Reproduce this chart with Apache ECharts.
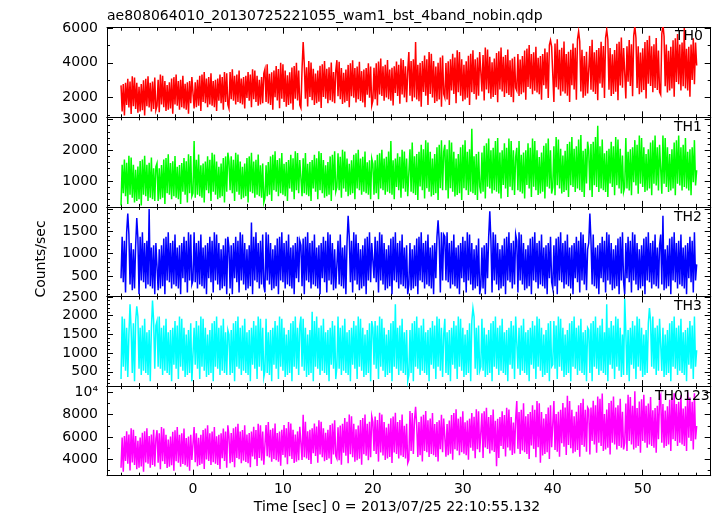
<!DOCTYPE html>
<html><head><meta charset="utf-8">
<script src="https://cdn.jsdelivr.net/npm/echarts@6/dist/echarts.min.js"></script>
<style>html,body{margin:0;padding:0;background:#fff}#c{width:717px;height:516px}</style>
</head><body><div id="c"></div>
<script>
const TITLE = 'ae808064010_20130725221055_wam1_bst_4band_nobin.qdp';
const X_TITLE = 'Time [sec] 0 = 2013/07/25 22:10:55.132';
const Y_TITLE = 'Counts/sec';
const bandNames = ['TH0', 'TH1', 'TH2', 'TH3', 'TH0123'];
const bandColors = ['#ff0000', '#00ff00', '#0000ff', '#00ffff', '#ff00ff'];
const timeStart = -8.0;
const timeStep = 0.125;
const xRange = [-9.56, 57.56];
const xLabelStep = 10;
const yRanges = [[865, 6020], [153, 3075], [40, 2050], [118, 2510], [2550, 10560]];
const yLabelSteps = [2000, 1000, 500, 500, 2000];

const th0 = [
2700,1200,2775,975,2850,1575,3075,1425,2925,1050,3225,1500,3150,1350,2850,1125,2625,1200,2775,1275,3000,975,3075,1500,3225,1425,2850,1200,2925,1350,3150,1275,
1525,3025,1150,3325,1600,3250,1450,2950,1225,2725,1300,2875,1375,3100,1075,3175,1600,3325,1525,2950,1300,3025,1450,3250,1375,2800,1300,2875,1075,2950,1675,3175,
3100,1375,2875,1450,3025,1525,3250,1225,3325,1750,3475,1675,3100,1450,3175,1600,3400,1525,2950,1450,3025,1225,3100,1825,3325,1675,3175,1300,3475,1750,3400,1600,
1375,3475,1900,3625,1825,3250,1600,3325,1750,3550,1675,3100,1600,3175,1375,3250,1975,3475,1825,3325,1450,3625,1900,3550,1750,3250,1525,3025,1600,3175,1675,3400,
3640,1750,3910,1660,3370,1570,3460,1300,3550,2020,3820,1840,3640,1390,4000,1930,3910,1750,3550,1480,3280,1570,3460,1660,3730,1300,3820,1930,4000,1840,3550,1570,
1400,3650,5200,3920,1940,3740,1490,4100,2030,4010,1850,3650,1580,3380,1670,3560,1760,3830,1400,3920,2030,4100,1940,3650,1670,3740,1850,4010,1760,3470,1670,3560,
4150,2080,4060,1900,3700,1630,3430,1720,3610,1810,3880,1450,3970,2080,4150,1990,3700,1720,3790,1900,4060,1810,3520,1720,3610,1450,3700,2170,3970,1990,3790,1540,
1820,3710,1910,3980,1550,4070,2180,4250,2090,3800,1820,3890,2000,4160,1910,3620,1820,3710,1550,3800,2270,4070,2090,3890,1640,4250,2180,4160,2000,3800,1730,3530,
4625,2105,4100,1790,4205,2000,5200,1895,3890,1790,3995,1475,4100,2315,4415,2105,4205,1580,4625,2210,4520,2000,4100,1685,3785,1790,3995,1895,4310,1475,4415,2210,
1995,3990,1890,4095,1575,4200,2415,4515,2205,4305,1680,4725,2310,4620,2100,4200,1785,3885,1890,4095,1995,4410,1575,4515,2310,4725,2205,4200,1890,4305,2100,4620,
4665,2355,4455,1830,4875,2460,4770,2250,4350,1935,4035,2040,4245,2145,4560,1725,4665,2460,4875,2355,4350,2040,4455,2250,4770,2145,4140,2040,4245,1725,4350,2565,
2400,4500,2085,4185,2190,4395,2295,4710,1875,4815,2610,5025,2505,4500,2190,4605,2400,4920,2295,4290,2190,4395,1875,4500,2715,4815,2505,4605,1980,5025,5300,4920,
4990,1750,5110,2590,5350,2470,4750,2110,4870,2350,5230,2230,4510,2110,4630,1750,4750,2710,5110,2470,4870,1870,5350,5800,5230,2350,4750,1990,4390,2110,4630,2230,
2210,4970,2450,5330,2330,4610,2210,4730,1850,4850,2810,5210,2570,4970,1970,5450,5900,5330,2450,4850,2090,4490,2210,4730,2330,5090,1850,5210,2690,5450,2570,4850,
4830,1950,4950,2910,5310,2670,5070,2070,5550,6100,5430,2550,4950,2190,4590,2310,4830,2430,5190,1950,5310,2790,5550,2670,4950,2310,5070,2550,5430,2430,4710,2310,
2170,5650,6200,5530,2650,5050,2290,4690,2410,4930,2530,5290,2050,5410,2890,5650,2770,5050,2410,5170,2650,6000,2530,4810,2410,4930,2050,5050,3010,5410,2770,5170,
3850];

const th1 = [
200,1530,600,1700,500,1590,250,1820,550,1760,450,1530,300,1360,350,1470,400,1650,200,1700,550,1820,500,1530,350,1590,450,1760,400,1410,350,1470,
1580,350,1410,400,1520,450,1700,250,1750,600,1870,550,1580,400,1640,500,1810,450,1460,400,1520,250,1580,650,1750,550,1640,300,1870,600,1810,500,
600,2300,450,1690,550,1860,500,1510,450,1570,300,1630,700,1800,600,1690,350,1920,650,1860,550,1630,400,1460,450,1570,500,1750,300,1800,650,1920,
1630,700,1800,600,1690,350,1920,650,1860,550,1630,400,1460,450,1570,500,1750,300,1800,650,1920,600,1630,450,1690,550,1860,500,1510,450,1570,300,
450,1510,500,1620,550,1800,350,1850,700,1970,650,1680,500,1740,600,1910,550,1560,500,1620,350,1680,750,1850,650,1740,400,1970,700,1910,600,1680,
1680,500,1740,600,1910,550,1560,500,1620,350,1680,750,1850,650,1740,400,1970,700,1910,600,1680,450,1510,500,1620,550,1800,350,1850,700,1970,650,
800,1900,700,1790,450,2020,750,1960,650,1730,500,1560,550,1670,600,1850,400,1900,750,2020,700,1730,550,1790,650,1960,600,1610,550,1670,400,1730,
1560,550,1670,600,1850,400,1900,750,2020,700,1730,550,1790,650,1960,600,2300,550,1670,400,1730,800,1900,700,1790,450,2020,750,1960,650,1730,500,
540,2030,650,2250,600,1800,540,1880,380,1950,820,2180,700,2030,430,2330,760,2250,650,1950,490,1730,540,1880,600,2100,380,2180,760,2330,700,1950,
2180,700,2030,430,2330,760,2250,650,1950,490,1730,540,1880,600,2100,380,2180,760,2330,700,1950,540,2030,650,2700,600,1800,540,1880,380,1950,820,
590,1930,650,2150,430,2230,810,2380,750,2000,590,2080,700,2300,650,2400,590,1930,430,2000,870,2230,750,2080,480,2380,810,2300,700,2000,540,1780,
2080,700,2300,650,1850,590,1930,430,2000,870,2230,750,2080,480,2380,810,2300,700,2000,540,1780,590,1930,650,2150,430,2230,810,2380,750,2000,590,
800,2130,530,2430,860,2350,750,2050,590,1830,640,1980,700,2200,480,2280,860,2430,800,2050,640,2130,750,2350,700,2500,640,1980,480,2050,920,2280,
1980,700,2200,480,2280,860,2430,800,2800,640,2130,750,2350,700,1900,640,1980,480,2050,920,2280,800,2130,530,2430,860,2350,750,2050,590,1830,640,
800,2400,750,1950,690,2030,530,2100,960,2330,850,2180,580,2480,910,2400,800,2100,640,1880,690,2030,750,2250,530,2330,910,2480,850,2100,690,2180,
2180,580,2480,910,2400,800,2100,640,1880,690,2030,750,2250,530,2330,910,2480,850,2100,690,2180,800,2400,750,1950,690,2030,530,2100,960,2330,850,
1350];

const th2 = [
450,1380,360,1290,130,1480,1900,1430,310,1240,180,1100,220,1190,1800,1340,90,1380,400,1480,360,1240,220,1290,310,2000,270,1140,220,1190,90,1240,
1240,180,1100,220,1190,270,1340,90,1380,400,1480,360,1240,220,1290,310,1430,270,1140,220,1190,90,1240,450,1380,360,1290,130,1480,400,1430,310,
400,1480,360,1240,220,1290,310,1430,270,1140,220,1190,90,1240,450,1380,360,1290,130,1480,400,1430,310,1240,180,1100,220,1190,270,1340,90,1380,
1140,220,1190,90,1240,450,1380,360,1290,130,1480,400,1430,310,1240,180,1100,220,1190,270,1700,90,1380,400,1480,360,1240,220,1290,310,1430,270,
130,1480,400,1430,310,1240,180,1100,220,1190,270,1340,90,1380,400,1480,360,1240,220,1290,310,1430,270,1140,220,1190,90,1240,450,1380,360,1290,
1190,270,1340,90,1380,400,1480,360,1240,220,1290,310,1430,270,1140,220,1190,90,1240,450,1380,360,1290,130,1480,400,1430,310,1240,180,1100,220,
220,1290,310,1430,270,1140,220,1190,90,1240,1850,1380,360,1290,130,1480,400,1430,310,1240,180,1100,220,1190,270,1340,90,1380,400,1480,360,1240,
1240,450,1380,360,1290,130,1480,400,1430,310,1240,180,1100,220,1190,270,1340,90,1380,400,1480,360,1240,220,1290,310,1430,270,1140,220,1190,90,
310,1240,180,1100,220,1190,270,1340,90,1380,400,1480,360,1240,220,1290,310,1430,270,1140,220,1190,90,1240,450,1380,1750,1290,130,1480,400,1430,
1380,400,1480,360,1240,220,1290,310,1430,270,1140,220,1190,90,1240,450,1380,360,1290,130,1480,400,1430,310,1240,180,1100,220,1190,270,1340,90,
270,1140,220,1190,90,1240,450,1380,1950,1290,130,1480,400,1430,310,1240,180,1100,220,1190,270,1340,90,1380,400,1480,360,1240,220,1290,310,1430,
1290,130,1480,400,1430,310,1240,180,1100,220,1190,270,1340,90,1380,400,1480,360,1240,220,1290,310,1430,270,1140,220,1190,90,1240,450,1380,360,
220,1190,270,1340,90,1380,400,1480,360,1240,220,1290,310,1430,270,1140,220,1190,90,1240,450,1380,360,1290,130,1480,400,1430,310,1240,180,1100,
1240,1900,1290,310,1430,270,1140,220,1190,90,1240,450,1380,360,1290,130,1480,400,1430,310,1240,180,1100,220,1190,270,1340,90,1380,400,1480,360,
90,1240,450,1380,360,1290,130,1480,400,1430,310,1240,180,1100,220,1190,270,1340,90,1380,400,1480,360,1240,220,1290,310,1430,270,1140,220,1190,
1430,310,1850,180,1100,220,1190,270,1340,90,1380,400,1480,360,1240,220,1290,310,1430,270,1140,220,1190,90,1240,450,1380,360,1290,130,1480,400,
760];

const th3 = [
305,1975,635,1915,525,1675,360,1495,2300,1615,470,1795,250,1855,2250,1975,580,1675,415,1735,525,1915,470,1555,415,1615,250,1675,2400,1855,580,1735,
1855,635,1975,580,1675,415,1735,525,1915,470,1555,415,1615,250,1675,690,1855,580,1735,305,1975,635,1915,525,1675,360,1495,415,1615,470,1795,250,
250,1675,690,1855,580,1735,305,1975,635,1915,525,1675,360,1495,415,1615,470,1795,250,1855,635,1975,580,1675,415,1735,525,1915,470,1555,415,1615,
1495,415,1615,470,1795,250,1855,635,1975,580,1675,415,1735,525,1915,470,1555,415,1615,250,1675,690,1855,580,1735,305,1975,635,1915,525,1675,360,
525,1915,470,1555,415,1615,250,1675,690,1855,580,1735,305,1975,635,1915,525,1675,360,1495,415,1615,470,1795,250,1855,635,1975,580,1675,415,1735,
1975,635,1915,525,1675,360,1495,415,1615,470,2100,250,1855,635,1975,580,1675,415,1735,525,1915,470,1555,415,1615,250,1675,690,1855,580,1735,305,
635,1975,580,1675,415,1735,525,1915,470,1555,415,1615,250,1675,690,1855,580,1735,305,1975,635,1915,525,1675,360,1495,415,1615,470,1795,250,1855,
1675,690,1855,580,1735,305,1975,635,1915,525,1675,360,1495,415,1615,470,1795,250,1855,635,2300,580,1675,415,1735,525,1915,470,1555,415,1615,250,
415,1615,470,1795,250,1855,635,1975,580,1675,415,1735,525,1915,470,1555,415,1615,250,1675,690,1855,580,1735,305,1975,635,1915,525,1675,360,1495,
1915,470,1555,415,1615,250,1675,690,1855,580,1735,305,1975,635,1915,525,1675,360,1495,415,1615,470,1795,250,1855,2200,1975,580,1675,415,1735,525,
635,1915,525,1675,360,1495,415,1615,470,1795,250,1855,635,1975,580,1675,415,1735,525,1915,470,1555,415,1615,250,1675,690,1855,580,1735,305,1975,
1975,580,1675,415,1735,525,1915,470,1555,415,1615,250,1675,690,1855,580,1735,305,1975,635,1915,525,1675,360,1495,415,1615,470,1795,250,1855,635,
690,1855,580,1735,305,1975,635,1915,525,1675,360,1495,415,1615,470,1795,250,1855,635,1975,580,1675,415,1735,525,1915,470,1555,415,1615,250,1675,
1615,470,1795,250,1855,635,1975,580,1675,415,1735,525,1915,470,1555,415,2300,250,1675,690,1855,580,1735,305,1975,635,1915,525,1675,360,1495,415,
2450,1555,415,1615,250,1675,690,1855,580,1735,305,1975,635,1915,525,1675,360,1495,415,1615,470,1795,2200,1855,635,1975,580,1675,415,1735,525,1915,
1915,525,1675,360,1495,415,1615,470,1795,250,1855,635,1975,580,1675,415,1735,525,1915,470,1555,415,1615,250,1675,690,1855,580,1735,305,1975,635,
1075];

const th0123 = [
3260,5960,2900,6100,3860,6520,3620,6240,3020,6800,3740,6660,3500,6100,3140,5680,3260,5960,3380,6380,2900,6520,3740,6800,3620,6100,3260,6240,3500,6660,3380,5820,
6620,3720,6340,3120,6900,3840,6760,3600,6200,3240,5780,3360,6060,3480,6480,3000,6620,3840,6900,3720,6200,3360,6340,3600,6760,3480,5920,3360,6060,3000,6200,3960,
3990,6910,3750,6350,3390,5930,3510,6210,3630,6630,3150,6770,3990,7050,3870,6350,3510,6490,3750,6910,3630,6070,3510,6210,3150,6350,4110,6770,3870,6490,3270,7050,
6080,3660,6360,3780,6780,3300,6920,4140,7200,4020,6500,3660,6640,3900,7060,3780,6220,3660,6360,3300,6500,4260,6920,4020,6640,3420,7200,4140,7060,3900,6500,3540,
3450,7070,4290,7350,4170,6650,3810,6790,4050,7210,3930,6370,3810,6510,3450,6650,4410,7070,4170,6790,3570,7350,4290,7210,4050,6650,3690,6230,3810,6510,3930,6930,
6800,3960,8000,4200,7360,4080,6520,3960,6660,3600,6800,4560,7220,4320,6940,3720,7500,4440,7360,4200,6800,3840,6380,3960,6660,4080,7080,3600,7220,4440,7500,4320,
4070,6870,3930,7040,3530,7200,4610,7700,4340,7370,3660,8030,4470,7860,4200,7200,3800,6710,3930,7040,4070,7530,3530,7700,4470,8030,4340,7200,3930,7370,4200,7860,
7350,4760,7850,4490,7520,3810,8180,4620,8010,4350,7350,3950,6860,4080,7190,4220,7680,3680,7850,4620,8180,4490,7350,4080,7520,4350,8010,4220,7020,4080,7190,3680,
3960,8330,4770,8160,4500,7500,8700,7010,4230,7340,4370,7830,3830,8000,4770,8330,4640,7500,4230,7670,4500,8160,4370,7170,4230,7340,3830,7500,4910,8000,4640,7670,
7650,4250,7160,4380,7490,4520,7980,3980,8150,4920,8480,4790,7650,4380,7820,4650,8310,4520,7320,4380,7490,3980,7650,5060,8150,4790,7820,4110,8480,4920,8310,4650,
4670,8130,4130,8300,5070,8630,4940,7800,4530,7970,4800,8460,4670,7470,3400,7640,4130,7800,5210,8300,4940,7970,4260,8630,5070,8460,4800,7800,4400,7310,4530,7640,
9230,4950,8250,4500,8450,4800,9030,4650,7860,4500,8060,4050,8250,5250,8840,4950,8450,4200,9230,5100,9030,3700,8250,4350,7670,4500,8060,4650,8640,4050,8840,5100,
5000,9230,4850,8060,4700,8260,4250,8450,5450,9040,5150,8650,4400,9700,5300,9230,5000,8450,4550,7870,4700,8260,4850,8840,4250,9040,5300,9430,5150,8450,4700,8650,
8460,4450,8650,5650,9240,5350,8850,4600,9630,5500,9430,5200,9900,4750,8070,4900,8460,5050,9040,4450,9240,5500,9630,5350,8650,4900,8850,5200,9430,5050,8260,4900,
5500,9000,4750,9780,5650,9580,5350,8800,4900,10100,5050,8610,5200,9190,4600,9390,5650,9780,5500,8800,5050,9000,5350,9580,5200,8410,5050,8610,4600,8800,5800,9390,
9730,5500,8950,5050,8370,5200,8760,5350,9340,4750,9540,5800,9930,5650,8950,5200,9150,5500,9730,5350,8560,5200,8760,4750,10000,5950,9540,5650,9150,4900,9930,5800,
7000];

const bandValues = [th0, th1, th2, th3, th0123];

const FONT = 'DejaVu Sans';
const panelTops = [27.7, 117.3, 206.9, 296.5, 386.1];
const panelH = 89.6;
const ySplit = [3, 3, 4, 4, 4];
const yMinor = [2, 5, 5, 5, 2];
const labelPos = [[675, 37], [674, 128], [674, 218], [674, 307], [655, 397]];

const isMult = (v, s) => Math.abs(v / s - Math.round(v / s)) < 1e-6;

const grids = [], xAxes = [], yAxes = [], series = [], graphics = [];
const lineCol = '#000';
for (let i = 0; i < 5; i++) {
  grids.push({left: 107, right: 6.3, top: panelTops[i], height: panelH, outerBoundsMode: 'none', containLabel: false});
  ['bottom', 'top'].forEach(pos => {
    const showLab = (i === 4 && pos === 'bottom');
    xAxes.push({
      gridIndex: i, type: 'value', position: pos, min: xRange[0], max: xRange[1], splitNumber: 6,
      axisLine: {show: true, onZero: false, lineStyle: {color: lineCol, width: 1}},
      axisTick: {show: true, inside: true, length: 6, lineStyle: {color: lineCol}},
      minorTick: {show: true, splitNumber: 5, length: 3, lineStyle: {color: lineCol}},
      splitLine: {show: false}, minorSplitLine: {show: false},
      axisLabel: {show: showLab, margin: 7, fontSize: 14, fontFamily: FONT, color: '#000',
        formatter: v => isMult(v, xLabelStep) ? String(Math.round(v)) : ''}
    });
  });
  ['left', 'right'].forEach(pos => {
    const step = yLabelSteps[i];
    yAxes.push({
      gridIndex: i, type: 'value', position: pos, min: yRanges[i][0], max: yRanges[i][1], splitNumber: ySplit[i],
      axisLine: {show: true, onZero: false, lineStyle: {color: lineCol, width: 1}},
      axisTick: {show: true, inside: true, length: 6, lineStyle: {color: lineCol}},
      minorTick: {show: true, splitNumber: yMinor[i], length: 3, lineStyle: {color: lineCol}},
      splitLine: {show: false}, minorSplitLine: {show: false},
      axisLabel: {show: pos === 'left', margin: 9, fontSize: 14, fontFamily: FONT, color: '#000',
        formatter: v => {
          if (!isMult(v, step)) return '';
          const r = Math.round(v);
          return r === 10000 ? '10\u2074' : String(r);
        }}
    });
  });
  const vals = bandValues[i];
  const pts = vals.map((v, k) => [timeStart + k * timeStep, v]);
  series.push({
    type: 'line', xAxisIndex: i * 2, yAxisIndex: i * 2, data: pts,
    showSymbol: false, symbol: 'none', sampling: 'none', clip: true, smooth: false,
    lineStyle: {color: bandColors[i], width: 1.5, join: 'miter', cap: 'butt'}, itemStyle: {color: bandColors[i]},
    animation: false, z: 1
  });
  graphics.push({type: 'text', left: labelPos[i][0], top: labelPos[i][1] - 8, z: 100,
    style: {text: bandNames[i], font: '14px "' + FONT + '"', fill: '#000'}});
}
graphics.push({type: 'text', left: 107, top: 9, style: {text: TITLE, font: '14px "' + FONT + '"', fill: '#000'}});
graphics.push({type: 'text', x: 41, y: 259, rotation: Math.PI / 2,
  style: {text: Y_TITLE, font: '14px "' + FONT + '"', fill: '#000', align: 'center', verticalAlign: 'middle'}});
graphics.push({type: 'text', x: 397, y: 507,
  style: {text: X_TITLE, font: '14px "' + FONT + '"', fill: '#000', align: 'center', verticalAlign: 'middle'}});

const chart = echarts.init(document.getElementById('c'), null, {renderer: 'canvas'});
chart.setOption({
  animation: false, backgroundColor: '#fff',
  grid: grids, xAxis: xAxes, yAxis: yAxes, series: series, graphic: graphics
});
</script></body></html>
